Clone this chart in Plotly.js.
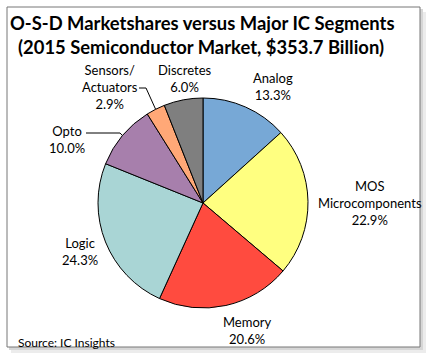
<!DOCTYPE html>
<html>
<head>
<meta charset="utf-8">
<script src="https://cdn.plot.ly/plotly-3.0.1.min.js"></script>
<style>html,body{margin:0;padding:0;background:#fff;}#chart{width:429px;height:356px;}</style>
</head>
<body>
<div id="chart"></div>
<script>
// ---- data ----
var segments = ["Analog", "MOS Microcomponents", "Memory", "Logic", "Opto", "Sensors/Actuators", "Discretes"];
var shares = [13.3, 22.9, 20.6, 24.3, 10.0, 2.9, 6.0];
var labelTexts = ["Analog", "MOS<br>Microcomponents", "Memory", "Logic", "Opto", "Sensors/<br>Actuators", "Discretes"];
var titleLine1 = "O-S-D Marketshares versus Major IC Segments";
var titleLine2 = "(2015 Semiconductor Market, $353.7 Billion)";
var sourceText = "Source: IC Insights";

// ---- styles / layout ----
var colors = ["#77A8D6", "#FFFF80", "#FF4B3F", "#A9D5D5", "#A77FAC", "#FFA877", "#7F7F7F"];
var W = 429, H = 356;
var cxPx = 203, cyPx = 203, Rpx = 105;
// label centre offsets from pie centre (px)
var labelOffsets = [[70, -117], [167, 0], [44, 127], [-123, 49], [-136, -64], [-93, -116], [-19, -125]];
// leader line elbow points (px), null = no leader
var leaderElbows = [null, null, null, null, [[86, 133], [120, 133]], [[139, 88], [146, 88]], null];

function px(x) { return x / W; }
function py(y) { return 1 - y / H; }

var total = shares.reduce(function (a, b) { return a + b; }, 0);
var annotations = [];
var shapes = [];

// frame with shadow
shapes.push({type: "rect", xref: "paper", yref: "paper", x0: px(11), x1: px(426), y0: py(12), y1: py(353), fillcolor: "#ececec", line: {width: 0}, layer: "below"});
shapes.push({type: "rect", xref: "paper", yref: "paper", x0: px(9), x1: px(423), y0: py(9), y1: py(350), fillcolor: "#d6d6d6", line: {width: 0}, layer: "below"});
shapes.push({type: "rect", xref: "paper", yref: "paper", x0: px(7), x1: px(420), y0: py(7), y1: py(347), fillcolor: "#ffffff", line: {color: "#777", width: 1}, layer: "below"});

var cum = 0;
for (var i = 0; i < shares.length; i++) {
  var mid = (cum + shares[i] / 2) / total * 2 * Math.PI;
  cum += shares[i];
  var lx = cxPx + labelOffsets[i][0], ly = cyPx + labelOffsets[i][1];
  annotations.push({
    xref: "paper", yref: "paper", x: px(lx), y: py(ly), xanchor: "center", yanchor: "middle",
    text: labelTexts[i] + "<br>" + shares[i].toFixed(1) + "%", showarrow: false,
    font: {family: "Lato, 'Open Sans', sans-serif", size: 13, color: "#000"}
  });
  if (leaderElbows[i]) {
    var ex = cxPx + Rpx * Math.sin(mid), ey = cyPx - Rpx * Math.cos(mid);
    var p = leaderElbows[i];
    var path = "M" + px(p[0][0]) + "," + py(p[0][1]) + " L" + px(p[1][0]) + "," + py(p[1][1]) + " L" + px(ex) + "," + py(ey);
    shapes.push({type: "path", xref: "paper", yref: "paper", path: path, line: {color: "#000", width: 1}});
  }
}

annotations.push({xref: "paper", yref: "paper", x: px(8), y: py(23), xanchor: "left", yanchor: "middle", showarrow: false,
  text: "<b>" + titleLine1 + "</b>", font: {family: "Lato, sans-serif", size: 18.4, color: "#000"}});
annotations.push({xref: "paper", yref: "paper", x: px(16), y: py(47), xanchor: "left", yanchor: "middle", showarrow: false,
  text: "<b>" + titleLine2 + "</b>", font: {family: "Lato, sans-serif", size: 18.4, color: "#000"}});
annotations.push({xref: "paper", yref: "paper", x: px(16), y: py(342), xanchor: "left", yanchor: "middle", showarrow: false,
  text: sourceText, font: {family: "Lato, sans-serif", size: 12, color: "#000"}});

var trace = {
  type: "pie", labels: segments, values: shares, sort: false, direction: "clockwise", rotation: 0,
  marker: {colors: colors, line: {color: "#000", width: 1}},
  textinfo: "none", hoverinfo: "label+percent", showlegend: false,
  domain: {x: [px(cxPx - Rpx), px(cxPx + Rpx)], y: [py(cyPx + Rpx), py(cyPx - Rpx)]}
};

var layout = {
  width: W, height: H, margin: {l: 0, r: 0, t: 0, b: 0},
  paper_bgcolor: "#ffffff", showlegend: false,
  annotations: annotations, shapes: shapes
};
Plotly.newPlot("chart", [trace], layout, {displayModeBar: false, staticPlot: true});
</script>
</body>
</html>
